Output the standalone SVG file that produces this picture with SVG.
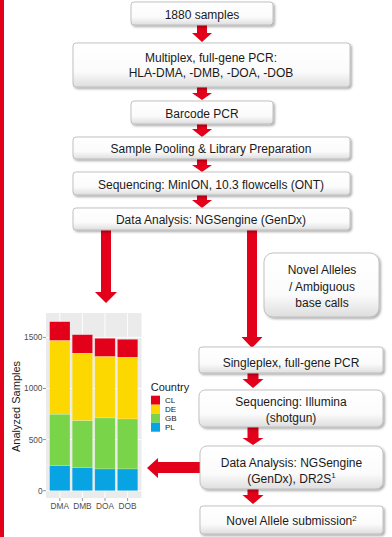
<svg xmlns="http://www.w3.org/2000/svg" width="392" height="537" viewBox="0 0 392 537">
<style>
.box{fill:url(#bg);stroke:#b4b4b4;stroke-width:0.8;filter:url(#sh)}
.t{font-family:"Liberation Sans",Arial,sans-serif;font-size:12px;fill:#1a1a1a;text-anchor:middle}
.red{fill:#e2001a}
.ax{font-family:"Liberation Sans",Arial,sans-serif;font-size:8.3px;fill:#4d4d4d}
.lg{font-family:"Liberation Sans",Arial,sans-serif;font-size:8px;fill:#1a1a1a}
.gmaj{stroke:#ffffff;stroke-width:0.9}
.gmin{stroke:#f7f7f7;stroke-width:0.5}
.bar{stroke:#ffffff;stroke-opacity:0.35;stroke-width:0.6}
</style>
<defs>
<linearGradient id="bg" x1="0" y1="0" x2="0" y2="1">
<stop offset="0" stop-color="#ffffff"/>
<stop offset="0.65" stop-color="#fbfbfb"/>
<stop offset="1" stop-color="#dedede"/>
</linearGradient>
<filter id="sh" x="-10%" y="-20%" width="125%" height="160%">
<feDropShadow dx="1.5" dy="1.5" stdDeviation="1" flood-color="#000" flood-opacity="0.35"/>
</filter>
</defs>
<rect width="392" height="537" fill="#ffffff"/>
<rect x="0" y="0" width="4" height="537" class="red"/>

<g id="connectors">
<polygon class="red" points="197,25 207,25 207,33 212,33 202,42 192,33 197,33"/>
<polygon class="red" points="197,87 207,87 207,93 212,93 202,100 192,93 197,93"/>
<polygon class="red" points="197,124 207,124 207,129 212,129 202,137 192,129 197,129"/>
<polygon class="red" points="197,159 207,159 207,165 212,165 202,172 192,165 197,165"/>
<polygon class="red" points="197,195 207,195 207,200 212,200 202,208 192,200 197,200"/>
<polygon class="red" points="101,230 111,230 111,292 117,292 106,303 95,292 101,292"/>
<polygon class="red" points="247,230 257,230 257,337 262.5,337 252,348 241.5,337 247,337"/>
<polygon class="red" points="247.5,373 258.5,373 258.5,379 263.5,379 253,388 242.5,379 247.5,379"/>
<polygon class="red" points="247.5,427 258.5,427 258.5,438 263.5,438 253,445 242.5,438 247.5,438"/>
<polygon class="red" points="247.5,489 258.5,489 258.5,495 263.5,495 253,504 242.5,495 247.5,495"/>
<polygon class="red" points="200,462 158,462 158,458 147,468 158,478 158,473 200,473"/>
</g>

<g id="n1880"><rect class="box" x="131" y="2" width="142" height="23" rx="3"/><text class="t" x="202" y="19">1880 samples</text></g>
<g id="nMultiplex"><rect class="box" x="73" y="43" width="277" height="44" rx="3"/><text class="t" x="211" y="61.5">Multiplex, full-gene PCR:</text><text class="t" x="211" y="76.5">HLA-DMA, -DMB, -DOA, -DOB</text></g>
<g id="nBarcode"><rect class="box" x="131" y="101" width="142" height="23" rx="3"/><text class="t" x="202" y="117.5">Barcode PCR</text></g>
<g id="nPooling"><rect class="box" x="73" y="137" width="277" height="22" rx="3"/><text class="t" x="211" y="152.5">Sample Pooling &amp; Library Preparation</text></g>
<g id="nMinION"><rect class="box" x="73" y="172" width="277" height="23" rx="3"/><text class="t" x="211" y="188.5">Sequencing: MinION, 10.3 flowcells (ONT)</text></g>
<g id="nDA1"><rect class="box" x="73" y="208" width="277" height="22" rx="3"/><text class="t" x="211" y="224">Data Analysis: NGSengine (GenDx)</text></g>
<g id="nNovel"><rect class="box" x="264" y="253" width="115" height="64" rx="9"/><text class="t" x="322" y="273.5">Novel Alleles</text><text class="t" x="322" y="290.5">/ Ambiguous</text><text class="t" x="322" y="306.5">base calls</text></g>
<g id="nSingleplex"><rect class="box" x="199" y="347" width="184" height="26" rx="3"/><text class="t" x="291" y="367">Singleplex, full-gene PCR</text></g>
<g id="nIllumina"><rect class="box" x="199" y="390" width="184" height="37" rx="6"/><text class="t" x="291" y="406">Sequencing: Illumina</text><text class="t" x="291" y="422">(shotgun)</text></g>
<g id="nDA2"><rect class="box" x="200" y="446" width="183" height="43" rx="7"/><text class="t" x="291.5" y="467">Data Analysis: NGSengine</text><text class="t" x="291.5" y="482.5">(GenDx), DR2S<tspan font-size="8" dy="-4.5">1</tspan></text></g>
<g id="nSubmission"><rect class="box" x="200" y="506" width="183" height="28" rx="3"/><text class="t" x="291.5" y="525">Novel Allele submission<tspan font-size="8" dy="-4.5">2</tspan></text></g>

<g id="chart">
<rect x="46" y="313" width="95.5" height="185" fill="#ebebeb"/>
<g>
<line class="gmin" x1="46" x2="141.5" y1="465.15" y2="465.15"/>
<line class="gmin" x1="46" x2="141.5" y1="414.05" y2="414.05"/>
<line class="gmin" x1="46" x2="141.5" y1="362.95" y2="362.95"/>
<line class="gmaj" x1="46" x2="141.5" y1="490.7" y2="490.7"/>
<line class="gmaj" x1="46" x2="141.5" y1="439.6" y2="439.6"/>
<line class="gmaj" x1="46" x2="141.5" y1="388.5" y2="388.5"/>
<line class="gmaj" x1="46" x2="141.5" y1="337.4" y2="337.4"/>
<line class="gmaj" x1="59.8" x2="59.8" y1="313" y2="498"/>
<line class="gmaj" x1="82.4" x2="82.4" y1="313" y2="498"/>
<line class="gmaj" x1="105" x2="105" y1="313" y2="498"/>
<line class="gmaj" x1="127.6" x2="127.6" y1="313" y2="498"/>
</g>
<g id="bars">
<rect class="bar" x="49.6" y="321.7" width="20.4" height="19" fill="#e2001a"/>
<rect class="bar" x="49.6" y="340.7" width="20.4" height="73.6" fill="#fcd800"/>
<rect class="bar" x="49.6" y="414.3" width="20.4" height="51.4" fill="#7ad44a"/>
<rect class="bar" x="49.6" y="465.7" width="20.4" height="25" fill="#07a3e2"/>
<rect class="bar" x="72.2" y="334.7" width="20.4" height="18.6" fill="#e2001a"/>
<rect class="bar" x="72.2" y="353.3" width="20.4" height="67.4" fill="#fcd800"/>
<rect class="bar" x="72.2" y="420.7" width="20.4" height="47" fill="#7ad44a"/>
<rect class="bar" x="72.2" y="467.7" width="20.4" height="23" fill="#07a3e2"/>
<rect class="bar" x="94.8" y="338.3" width="20.4" height="18.4" fill="#e2001a"/>
<rect class="bar" x="94.8" y="356.7" width="20.4" height="61.3" fill="#fcd800"/>
<rect class="bar" x="94.8" y="418" width="20.4" height="51" fill="#7ad44a"/>
<rect class="bar" x="94.8" y="469" width="20.4" height="21.7" fill="#07a3e2"/>
<rect class="bar" x="117.4" y="339.3" width="20.4" height="18" fill="#e2001a"/>
<rect class="bar" x="117.4" y="357.3" width="20.4" height="61.7" fill="#fcd800"/>
<rect class="bar" x="117.4" y="419" width="20.4" height="50" fill="#7ad44a"/>
<rect class="bar" x="117.4" y="469" width="20.4" height="21.7" fill="#07a3e2"/>
</g>
<g stroke="#4d4d4d" stroke-width="0.6">
<line x1="43" x2="46" y1="490.7" y2="490.7"/>
<line x1="43" x2="46" y1="439.6" y2="439.6"/>
<line x1="43" x2="46" y1="388.5" y2="388.5"/>
<line x1="43" x2="46" y1="337.4" y2="337.4"/>
<line x1="59.8" x2="59.8" y1="498" y2="501"/>
<line x1="82.4" x2="82.4" y1="498" y2="501"/>
<line x1="105" x2="105" y1="498" y2="501"/>
<line x1="127.6" x2="127.6" y1="498" y2="501"/>
</g>
<g class="ax" text-anchor="end">
<text x="42.5" y="493.6">0</text>
<text x="42.5" y="442.5">500</text>
<text x="42.5" y="391.4">1000</text>
<text x="42.5" y="340.3">1500</text>
</g>
<g class="ax" text-anchor="middle" font-size="8px">
<text x="59.8" y="508.7">DMA</text>
<text x="82.4" y="508.7">DMB</text>
<text x="105" y="508.7">DOA</text>
<text x="127.6" y="508.7">DOB</text>
</g>
<text transform="translate(20,406.5) rotate(-90)" font-family="Liberation Sans, Arial, sans-serif" font-size="11px" fill="#1a1a1a" text-anchor="middle">Analyzed Samples</text>
<text x="150.7" y="391" font-family="Liberation Sans, Arial, sans-serif" font-size="11px" fill="#1a1a1a">Country</text>
<rect x="151" y="395.7" width="9" height="9" fill="#e2001a"/>
<rect x="151" y="404.7" width="9" height="9" fill="#fcd800"/>
<rect x="151" y="413.7" width="9" height="9" fill="#7ad44a"/>
<rect x="151" y="422.7" width="9" height="9" fill="#07a3e2"/>
<text class="lg" x="165" y="403">CL</text>
<text class="lg" x="165" y="412">DE</text>
<text class="lg" x="165" y="421">GB</text>
<text class="lg" x="165" y="430">PL</text>
</g>
</svg>
